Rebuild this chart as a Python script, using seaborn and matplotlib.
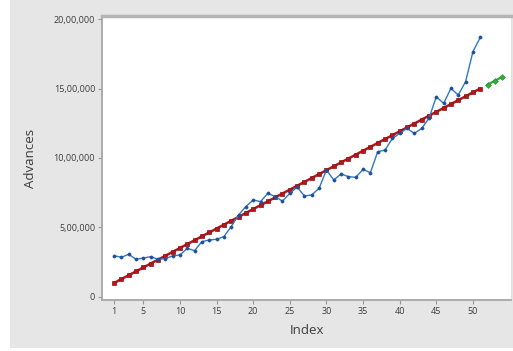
import numpy as np
import pandas as pd
import seaborn as sns
import matplotlib.pyplot as plt
from matplotlib.patches import Rectangle
from matplotlib.ticker import FixedLocator

# actual series (Advances), index 1..51
index_actual = list(range(1, 52))
advances = [297000, 285000, 307000, 271000, 280000, 290000, 271000, 276000, 295000, 302000,
            350000, 333000, 398000, 410000, 415000, 434000, 506000, 590000, 650000, 698000,
            686000, 746000, 722000, 690000, 746000, 790000, 727000, 734000, 782000, 914000,
            842000, 885000, 866000, 861000, 918000, 894000, 1045000, 1057000, 1141000, 1177000,
            1213000, 1177000, 1213000, 1285000, 1441000, 1393000, 1501000, 1453000, 1549000, 1765000,
            1868000]

# fitted trend values
fits = [100000, 128000, 156000, 184000, 212000, 240000, 268000, 296000, 324000, 352000,
        380000, 408000, 436000, 464000, 492000, 520000, 548000, 576000, 604000, 632000,
        660000, 688000, 716000, 744000, 772000, 800000, 828000, 856000, 884000, 912000,
        940000, 968000, 996000, 1024000, 1052000, 1080000, 1108000, 1136000, 1164000, 1192000,
        1220000, 1248000, 1276000, 1304000, 1332000, 1360000, 1388000, 1416000, 1444000, 1472000,
        1500000]

# forecasts
index_fc = [52, 53, 54]
forecasts = [1528000, 1556000, 1584000]

x_ticks = [1, 5, 10, 15, 20, 25, 30, 35, 40, 45, 50]
y_ticks = [0, 500000, 1000000, 1500000, 2000000]
y_labels = ['0', '5,00,000', '10,00,000', '15,00,000', '20,00,000']

df_act = pd.DataFrame({'Index': index_actual, 'Advances': advances})
df_fit = pd.DataFrame({'Index': index_actual, 'Advances': fits})
df_fc = pd.DataFrame({'Index': index_fc, 'Advances': forecasts})

sns.set_theme(style='white')
plt.rcParams['font.family'] = ['Open Sans', 'DejaVu Sans']

fig = plt.figure(figsize=(5.13, 3.51), dpi=100, facecolor='white')
fig.patches.append(Rectangle((10 / 513, 3 / 351), 1.0, 1.0, transform=fig.transFigure,
                             facecolor='#e6e6e6', edgecolor='none', zorder=-10))
ax = fig.add_axes([102 / 513, 1 - 300 / 351, 409 / 513, 284 / 351])
ax.set_facecolor('white')

sns.lineplot(data=df_fit, x='Index', y='Advances', ax=ax, color='#b3171b', linewidth=1.8,
             marker='s', markersize=3.5, markeredgecolor='#8c0f12', markeredgewidth=0.5, zorder=2)
sns.lineplot(data=df_act, x='Index', y='Advances', ax=ax, color='#2f78c4', linewidth=1.0,
             marker='o', markersize=2.3, markeredgecolor='#1f4f96', markerfacecolor='#1f4f96',
             markeredgewidth=0.4, zorder=3)
sns.lineplot(data=df_fc, x='Index', y='Advances', ax=ax, color='#2fae3c', linewidth=1.6,
             marker='D', markersize=3.0, markeredgecolor='#1f8a2b', markeredgewidth=0.4, zorder=2)

ax.set_xlim(-0.64, 55.2)
ax.set_ylim(-22000, 2022000)
ax.xaxis.set_major_locator(FixedLocator(x_ticks))
ax.set_xticklabels([str(t) for t in x_ticks])
ax.yaxis.set_major_locator(FixedLocator(y_ticks))
ax.set_yticklabels(y_labels)
ax.tick_params(axis='both', which='major', length=3, width=0.8, color='#9a9a9a',
               labelsize=6.5, labelcolor='#3c3c3c', pad=2, direction='out', bottom=True, left=True)

for side in ['left', 'bottom']:
    ax.spines[side].set_color('#a6a6a6')
    ax.spines[side].set_linewidth(1.3)
ax.spines['top'].set_color('#b4b4b4')
ax.spines['top'].set_linewidth(2.5)
ax.spines['right'].set_color('#e0e0e0')
ax.spines['right'].set_linewidth(0.8)

ax.set_xlabel('Index', fontsize=9.5, color='#3c3c3c', labelpad=6)
ax.set_ylabel('Advances', fontsize=9.5, color='#3c3c3c', labelpad=12)

plt.savefig('out.png', dpi=100, facecolor=fig.get_facecolor())
plt.close()
